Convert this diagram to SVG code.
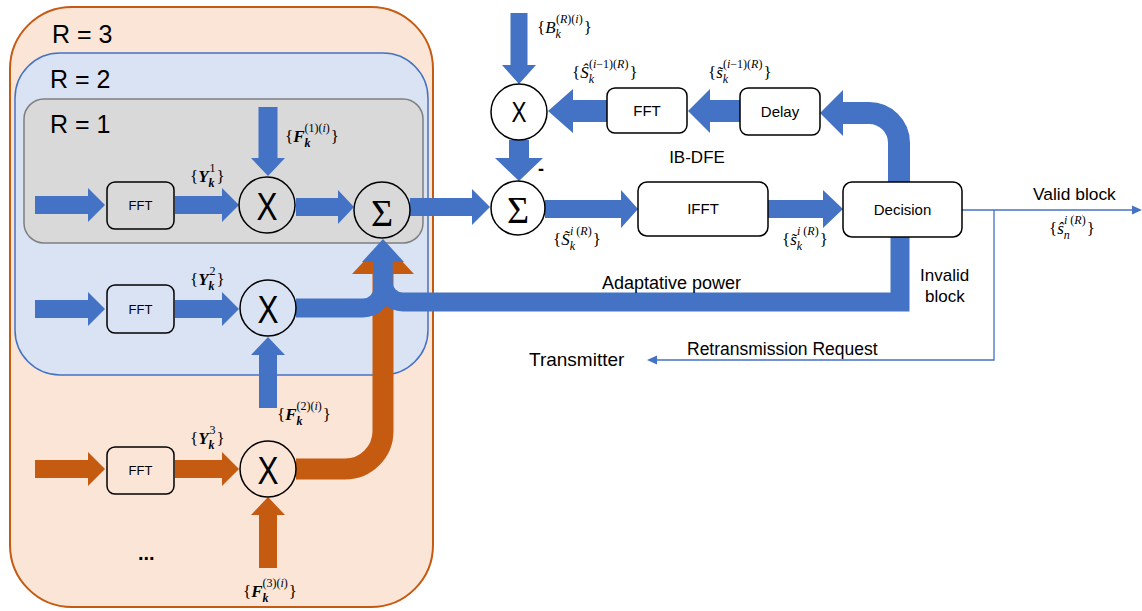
<svg xmlns="http://www.w3.org/2000/svg" width="1142" height="611" viewBox="0 0 1142 611">
<style>
.ab{fill:#4472C4}
.ao{fill:#C55A11}
.bb{fill:none;stroke:#4472C4;stroke-linejoin:miter}
.bo{fill:none;stroke:#C55A11}
.bx{fill:none;stroke:#000;stroke-width:1.5}
.bw{fill:#fff;stroke:#000;stroke-width:1.5}
.thin{fill:none;stroke:#4472C4;stroke-width:1.3}
.t{font-family:"Liberation Sans",Arial,sans-serif;fill:#000}
.c{text-anchor:middle}
.m{font-family:"Liberation Serif","Times New Roman",serif;font-size:17px;fill:#000}
.bi{font-weight:bold;font-style:italic}
.it{font-style:italic}
.s{font-size:12px}
.sig{font-family:"Liberation Serif","Times New Roman",serif;font-size:38px;text-anchor:middle}
</style>

<g id="region-r3">
<rect x="10" y="7" width="423" height="600" rx="62" fill="#FBE5D6" stroke="#C55A11" stroke-width="2"/>
<text class="t" x="52" y="43" font-size="25">R = 3</text>
</g>
<g id="region-r2">
<rect x="15" y="53" width="413" height="322" rx="45" fill="#DAE3F3" stroke="#4472C4" stroke-width="1.5"/>
<text class="t" x="50" y="88" font-size="25">R = 2</text>
</g>
<g id="region-r1">
<rect x="24" y="99" width="399" height="144" rx="20" fill="#D9D9D9" stroke="#7F7F7F" stroke-width="1.5"/>
<text class="t" x="50" y="133" font-size="25">R = 1</text>
</g>

<g id="connectors">
<!-- row 1 -->
<polygon class="ab" points="35,196 88,196 88,188 105,205 88,222 88,214 35,214"/>
<polygon class="ab" points="175,196 222,196 222,188 239,205 222,222 222,214 175,214"/>
<polygon class="ab" points="296,198 338,198 338,190 354,207 338,224 338,216 296,216"/>
<polygon class="ab" points="410,198 472,198 472,189 490,207 472,225 472,216 410,216"/>
<polygon class="ab" points="258.5,107 277.5,107 277.5,158 285,158 268,176 251,158 258.5,158"/>
<!-- row 2 -->
<polygon class="ab" points="35,300 88,300 88,292 105,309 88,326 88,318 35,318"/>
<polygon class="ab" points="175,300 222,300 222,292 239,309 222,326 222,318 175,318"/>
<polygon class="ab" points="259,408 277,408 277,355 285,355 268,337 251,355 259,355"/>
<!-- row 3 -->
<polygon class="ao" points="35,460 88,460 88,452 105,469 88,486 88,478 35,478"/>
<polygon class="ao" points="175,460 222,460 222,452 239,469 222,486 222,478 175,478"/>
<polygon class="ao" points="259,568 277,568 277,515 285,515 268,497 251,515 259,515"/>
<!-- orange combining band -->
<path class="bo" stroke-width="21" d="M296 469 H345 A38 38 0 0 0 383 431 V274"/>
<polygon class="ao" points="352,274 414,274 383,241"/>
<!-- blue combining bands -->
<path class="bb" stroke-width="19" d="M296 308 H363 A20 20 0 0 0 383 288 V262"/>
<path class="bb" stroke-width="19" d="M900 237 V302 H403 A20 20 0 0 1 383 282 V262"/>
<polygon class="ab" points="362,262 404,262 383,239"/>
<!-- IB-DFE loop -->
<polygon class="ab" points="510.5,13 527.5,13 527.5,65 536,65 519,84 502,65 510.5,65"/>
<polygon class="ab" points="509,140 529,140 529,158 543,158 519,181 495,158 509,158"/>
<polygon class="ab" points="740,100 710,100 710,89 688,111 710,133 710,122 740,122"/>
<polygon class="ab" points="607,100 573,100 573,89 548,111 573,133 573,122 607,122"/>
<polygon class="ab" points="545,200 621,200 621,190 638,209 621,228 621,218 545,218"/>
<polygon class="ab" points="768,200 823,200 823,190 843,209 823,228 823,218 768,218"/>
<path class="bb" stroke-width="22" d="M899 182 V143 A30 30 0 0 0 869 113 H843"/>
<polygon class="ab" points="843,90 843,136 820,113"/>
<!-- thin outputs -->
<path class="thin" d="M962 210 H1133"/>
<polygon class="ab" points="1132,205.5 1142,210 1132,214.5"/>
<path class="thin" d="M994 210 V360 H656"/>
<polygon class="ab" points="657,355.5 647,360 657,364.5"/>
</g>

<g id="fft1"><rect class="bx" x="107" y="182" width="67" height="47" rx="8"/><text class="t c" x="140.5" y="210" font-size="13">FFT</text></g>
<g id="fft2"><rect class="bx" x="107" y="285" width="67" height="48" rx="8"/><text class="t c" x="140.5" y="314" font-size="13">FFT</text></g>
<g id="fft3"><rect class="bx" x="107" y="447" width="67" height="47" rx="8"/><text class="t c" x="140.5" y="475" font-size="13">FFT</text></g>

<g id="mul1"><circle class="bx" cx="267" cy="205" r="28"/><text class="t c" x="267" y="220" font-size="38" textLength="21" lengthAdjust="spacingAndGlyphs">X</text></g>
<g id="mul2"><circle class="bx" cx="268" cy="308" r="28"/><text class="t c" x="268" y="323" font-size="38" textLength="21" lengthAdjust="spacingAndGlyphs">X</text></g>
<g id="mul3"><circle class="bx" cx="268" cy="469" r="28"/><text class="t c" x="268" y="484" font-size="38" textLength="21" lengthAdjust="spacingAndGlyphs">X</text></g>
<g id="sum1"><circle class="bx" cx="382" cy="210" r="28"/><text class="sig" x="382" y="226">Σ</text></g>

<g id="mulB"><circle class="bw" cx="519" cy="112" r="28"/><text class="t c" x="519" y="122" font-size="29" textLength="15" lengthAdjust="spacingAndGlyphs">X</text></g>
<g id="sum2"><circle class="bw" cx="518" cy="208" r="27"/><text class="sig" x="518" y="223" font-size="36">Σ</text><text class="t" x="538" y="175" font-size="18" font-weight="bold">-</text></g>
<g id="fftB"><rect class="bw" x="607" y="88" width="80" height="45" rx="8"/><text class="t c" x="647" y="116" font-size="15">FFT</text></g>
<g id="delay"><rect class="bw" x="740" y="88" width="80" height="47" rx="8"/><text class="t c" x="780" y="117" font-size="15">Delay</text></g>
<g id="ifft"><rect class="bw" x="638" y="182" width="130" height="54" rx="9"/><text class="t c" x="703" y="214" font-size="15">IFFT</text></g>
<g id="decision"><rect class="bw" x="843" y="182" width="119" height="55" rx="9"/><text class="t c" x="902.5" y="215" font-size="15">Decision</text></g>

<g id="labels">
<text class="t c" x="697" y="163" font-size="17">IB-DFE</text>
<text class="t" x="602" y="289" font-size="18">Adaptative power</text>
<text class="t" x="529" y="366" font-size="19">Transmitter</text>
<text class="t" x="687" y="355" font-size="17.5">Retransmission Request</text>
<text class="t" x="1033" y="200" font-size="17.4">Valid block</text>
<text class="t" x="920" y="281" font-size="17">Invalid</text>
<text class="t" x="925" y="302" font-size="17">block</text>
<text class="t" x="138" y="560" font-size="20" font-weight="bold">...</text>

<text class="m" x="285" y="142">{<tspan class="bi">F</tspan><tspan class="s bi" dy="5">k</tspan><tspan class="s" x="304.5" dy="-15">(1)(<tspan class="it">i</tspan>)</tspan><tspan dx="1" dy="10">}</tspan></text>
<text class="m" x="190" y="182">{<tspan class="bi">Y</tspan><tspan class="s bi" dy="5">k</tspan><tspan class="s" x="209.5" dy="-15">1</tspan><tspan dx="1" dy="10">}</tspan></text>
<text class="m" x="190" y="285">{<tspan class="bi">Y</tspan><tspan class="s bi" dy="5">k</tspan><tspan class="s" x="209.5" dy="-15">2</tspan><tspan dx="1" dy="10">}</tspan></text>
<text class="m" x="277" y="420">{<tspan class="bi">F</tspan><tspan class="s bi" dy="5">k</tspan><tspan class="s" x="296.5" dy="-15">(2)(<tspan class="it">i</tspan>)</tspan><tspan dx="1" dy="10">}</tspan></text>
<text class="m" x="190" y="444">{<tspan class="bi">Y</tspan><tspan class="s bi" dy="5">k</tspan><tspan class="s" x="209.5" dy="-15">3</tspan><tspan dx="1" dy="10">}</tspan></text>
<text class="m" x="243" y="597">{<tspan class="bi">F</tspan><tspan class="s bi" dy="5">k</tspan><tspan class="s" x="262.5" dy="-15">(3)(<tspan class="it">i</tspan>)</tspan><tspan dx="1" dy="10">}</tspan></text>
<text class="m" x="537" y="33">{<tspan class="it">B</tspan><tspan class="s it" dy="5">k</tspan><tspan class="s" x="556" dy="-15">(<tspan class="it">R</tspan>)(<tspan class="it">i</tspan>)</tspan><tspan dx="1" dy="10">}</tspan></text>
<text class="m" x="572" y="78">{<tspan class="it">Ŝ</tspan><tspan class="s it" dy="5">k</tspan><tspan class="s" x="589" dy="-15">(<tspan class="it">i</tspan>−1)(<tspan class="it">R</tspan>)</tspan><tspan dx="1" dy="10">}</tspan></text>
<text class="m" x="708" y="78">{<tspan class="it">s̃</tspan><tspan class="s it" dy="5">k</tspan><tspan class="s" x="723" dy="-15">(<tspan class="it">i</tspan>−1)(<tspan class="it">R</tspan>)</tspan><tspan dx="1" dy="10">}</tspan></text>
<text class="m" x="553" y="245">{<tspan class="it">S̃</tspan><tspan class="s it" dy="5">k</tspan><tspan class="s" x="570" dy="-15"><tspan class="it">i</tspan> (<tspan class="it">R</tspan>)</tspan><tspan dx="1" dy="10">}</tspan></text>
<text class="m" x="782" y="245">{<tspan class="it">s̃</tspan><tspan class="s it" dy="5">k</tspan><tspan class="s" x="797" dy="-15"><tspan class="it">i</tspan> (<tspan class="it">R</tspan>)</tspan><tspan dx="1" dy="10">}</tspan></text>
<text class="m" x="1049" y="234">{<tspan class="it">ŝ</tspan><tspan class="s it" dy="5">n</tspan><tspan class="s" x="1064" dy="-15"><tspan class="it">i</tspan> (<tspan class="it">R</tspan>)</tspan><tspan dx="1" dy="10">}</tspan></text>
</g>
</svg>
